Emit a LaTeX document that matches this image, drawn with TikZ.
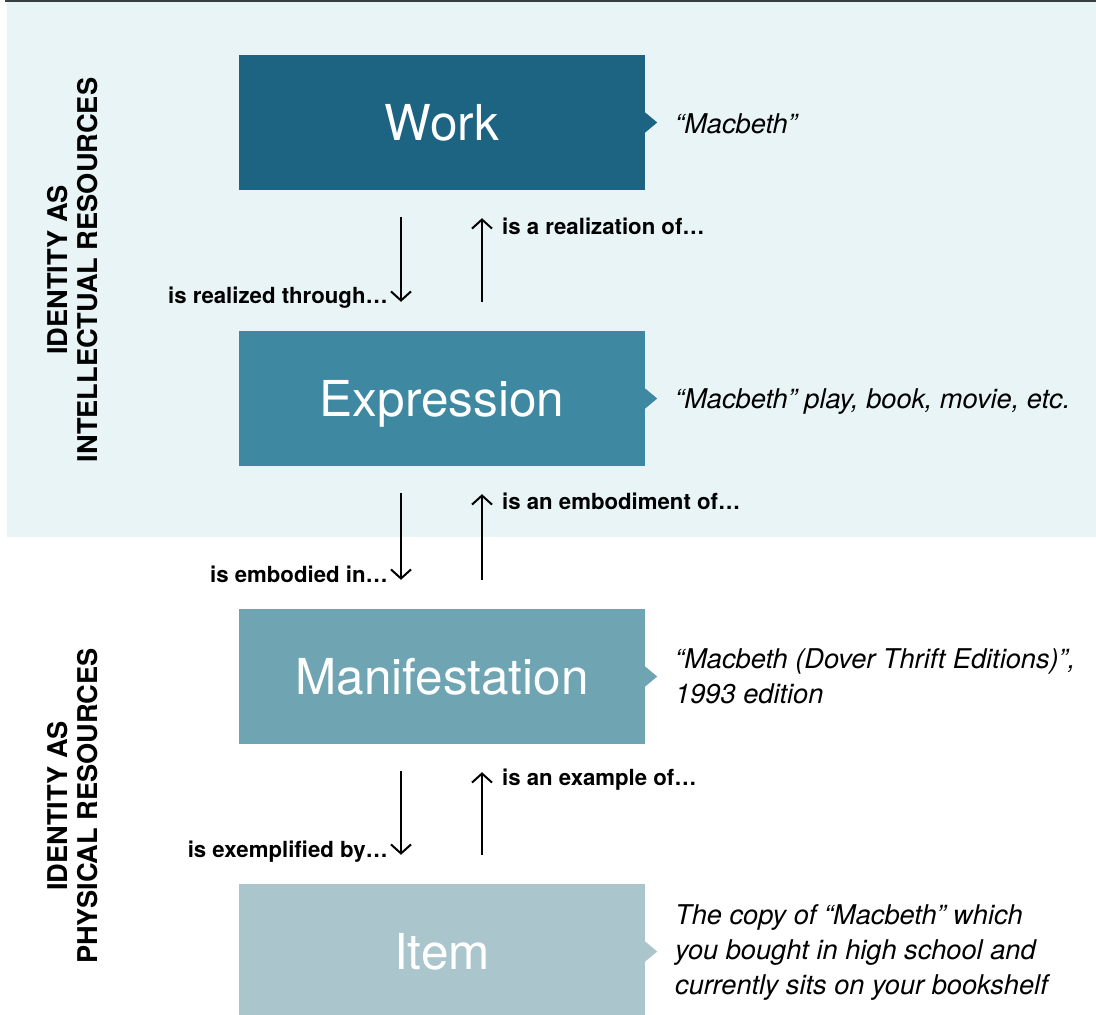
\documentclass[tikz,border=0pt]{standalone}
\usepackage{fontspec}
\setmainfont{TeX Gyre Heros}
\usetikzlibrary{arrows.meta}

\definecolor{bandbg}{HTML}{E8F4F5}
\definecolor{topline}{HTML}{3A3F40}
\definecolor{workc}{HTML}{1D6382}
\definecolor{exprc}{HTML}{3E88A1}
\definecolor{manic}{HTML}{6FA5B3}
\definecolor{itemc}{HTML}{AAC5CC}

\tikzset{
  entity/.style={rectangle, minimum width=406pt, minimum height=135pt,
    inner sep=0pt, text depth=0pt, text=white, font=\fontsize{49.5}{56}\selectfont},
  relation/.style={inner sep=0pt, font=\fontsize{22.2}{26}\selectfont\bfseries},
  example/.style={anchor=west, inner sep=0pt, align=left,
    font=\fontsize{27.2}{35}\selectfont\itshape},
  sidelabel/.style={rotate=90, inner sep=0pt, align=center,
    font=\fontsize{27.2}{30}\selectfont\bfseries},
  flow/.style={line width=2pt, -{Straight Barb[length=9pt,width=20pt,line width=2pt]}},
}

\begin{document}
\begin{tikzpicture}[x=1pt, y=-1pt]
  \useasboundingbox (0,0) rectangle (1096,1015);

  % shaded band for the intellectual level and the rule above it
  \fill[bandbg] (7,2) rectangle (1096,537);
  \draw[topline, line width=1.5pt] (5,1) -- (1096,1);

  % side headings
  \node[sidelabel] (intel) at (73,270) {IDENTITY AS\\INTELLECTUAL RESOURCES};
  \node[sidelabel] (phys)  at (73,806) {IDENTITY AS\\PHYSICAL RESOURCES};

  % the four entity levels
  \node[entity, fill=workc] (work)  at (442,122.5) {Work};
  \node[entity, fill=exprc] (expr)  at (442,398.5) {Expression};
  \node[entity, fill=manic] (manif) at (442,676.5) {Manifestation};
  \node[entity, fill=itemc] (item)  at (442,951.5) {Item};

  % pointers towards the examples
  \foreach \b/\c in {work/workc, expr/exprc, manif/manic, item/itemc}
    \fill[\c] (\b.east) ++(0,-10) -- ++(12,10) -- ++(-12,10) -- cycle;

  % examples
  \node[example] (workex)  at (675,124) {“Macbeth”};
  \node[example] (exprex)  at (675,402) {“Macbeth” play, book, movie, etc.};
  \node[example] (manifex) at (675,676) {“Macbeth (Dover Thrift Editions)”,\\1993 edition};
  \node[example] (itemex)  at (675,952) {The copy of “Macbeth” which\\you bought in high school and\\currently sits on your bookshelf};

  % relationships between levels
  \foreach \u/\l in {work/expr, expr/manif, manif/item} {
    \draw[flow] ([shift={(-41,27)}]\u.south) -- ([shift={(-41,-29)}]\l.north);
    \draw[flow] ([shift={(40,-29)}]\l.north) -- ([shift={(40,28)}]\u.south);
  }

  % relationship labels
  \node[relation, anchor=east] (r1) at (388,298) {is realized through…};
  \node[relation, anchor=west] (r2) at (502,226) {is a realization of…};
  \node[relation, anchor=east] (r3) at (388,574) {is embodied in…};
  \node[relation, anchor=west] (r4) at (502,501) {is an embodiment of…};
  \node[relation, anchor=east] (r5) at (388,852) {is exemplified by…};
  \node[relation, anchor=west] (r6) at (502,780) {is an example of…};
\end{tikzpicture}
\end{document}
